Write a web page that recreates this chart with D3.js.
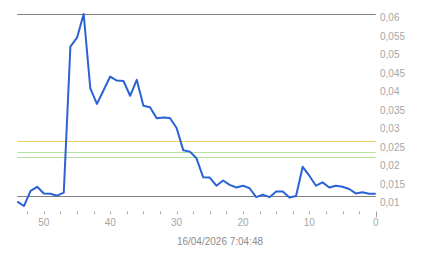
<!DOCTYPE html>
<meta charset="utf-8">
<script src="https://cdn.jsdelivr.net/npm/d3@7"></script>
<style>
  body { margin: 0; background: #fff; }
  text { font-family: "Liberation Sans", Arial, sans-serif; font-size: 10px; }
</style>
<div id="chart"></div>
<script>

// minutes ago (54 .. 0) and measured values
var ago = d3.range(54, -1, -1);
var values = [0.0093, 0.0081, 0.0122, 0.0133, 0.0115, 0.0114, 0.0109, 0.0117,
              0.0512, 0.0536, 0.0600, 0.0399, 0.0357, 0.0394, 0.0431, 0.0420,
              0.0419, 0.0379, 0.0422, 0.0352, 0.0348, 0.0318, 0.0320, 0.0319,
              0.0292, 0.0232, 0.0228, 0.0210, 0.0159, 0.0158, 0.0136, 0.0150,
              0.0138, 0.0131, 0.0136, 0.0129, 0.0105, 0.0112, 0.0105, 0.0120,
              0.0120, 0.0104, 0.0108, 0.0187, 0.0163, 0.0136, 0.0145, 0.0131,
              0.0136, 0.0133, 0.0127, 0.0115, 0.0118, 0.0114, 0.0114];

// horizontal reference lines
var refValues = [0.0600, 0.0257, 0.0226, 0.02135, 0.0107];
var refColors = ["#808080", "#f0cf62", "#b4e0a0", "#b4e0a0", "#808080"];

var yTicks = [0.06, 0.055, 0.05, 0.045, 0.04, 0.035, 0.03, 0.025, 0.02, 0.015, 0.01];
var xTicks = [50, 40, 30, 20, 10, 0];
var minorTicks = d3.range(0, 54, 2.5);
var title = "16/04/2026 7:04:48";

var width = 443, height = 258;

var svg = d3.select("#chart")
  .append("svg")
    .attr("width", width)
    .attr("height", height);

var x = d3.scaleLinear()
  .domain([54, 0])
  .range([17.3, 375.7]);

var y = d3.scaleLinear()
  .domain([0.01, 0.06])
  .range([199, 14]);

// reference lines
svg.selectAll(".ref")
  .data(refValues)
  .enter()
  .append("line")
    .attr("class", "ref")
    .attr("x1", x(54))
    .attr("x2", x(0))
    .attr("y1", function(d) { return Math.round(y(d)) + 0.5; })
    .attr("y2", function(d) { return Math.round(y(d)) + 0.5; })
    .attr("stroke", function(d, i) { return refColors[i]; })
    .attr("stroke-width", 1);

// y labels (right side)
svg.selectAll(".ylab")
  .data(yTicks)
  .enter()
  .append("text")
    .attr("class", "ylab")
    .attr("x", 380)
    .attr("y", function(d) { return y(d) + 7; })
    .attr("fill", "#a6a6a6")
    .text(function(d) { return String(d).replace(".", ","); });

// x ticks
svg.selectAll(".minor")
  .data(minorTicks)
  .enter()
  .append("line")
    .attr("class", "minor")
    .attr("x1", function(d) { return Math.round(x(d)) + 0.5; })
    .attr("x2", function(d) { return Math.round(x(d)) + 0.5; })
    .attr("y1", 211.5)
    .attr("y2", function(d) { return d === 0 ? 217 : 214; })
    .attr("stroke", "#a0a0a0");

svg.selectAll(".xlab")
  .data(xTicks)
  .enter()
  .append("text")
    .attr("class", "xlab")
    .attr("x", function(d) { return x(d); })
    .attr("y", 226)
    .attr("text-anchor", "middle")
    .attr("fill", "#a6a6a6")
    .text(function(d) { return d; });

svg.append("text")
  .attr("x", 220)
  .attr("y", 244.5)
  .attr("text-anchor", "middle")
  .attr("fill", "#8c8c8c")
  .text(title);

// data line
var line = d3.line()
  .x(function(d, i) { return x(ago[i]); })
  .y(function(d) { return y(d); });

svg.append("path")
  .datum(values)
  .attr("d", line)
  .attr("fill", "none")
  .attr("stroke", "#2b62d6")
  .attr("stroke-width", 2)
  .attr("stroke-linejoin", "round");

</script>
